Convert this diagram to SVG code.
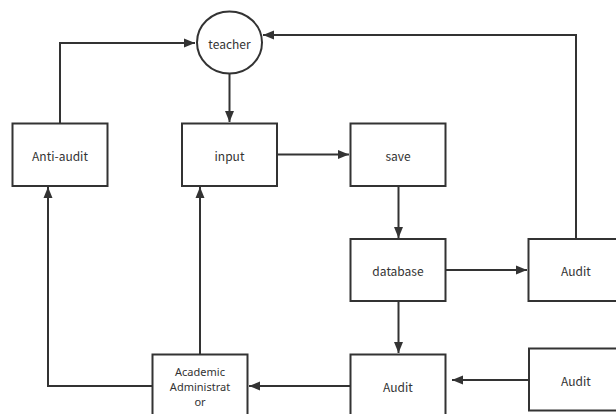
<svg xmlns="http://www.w3.org/2000/svg" width="616" height="414" viewBox="0 0 616 414">
<style>
.n{fill:#fff;stroke:#333;stroke-width:2}
.t{font-family:"Noto Sans CJK SC","Noto Sans",sans-serif;font-size:12px;fill:#333;text-anchor:middle;dominant-baseline:central}
.s{font-family:"Noto Sans",sans-serif;font-size:11px}
.c{fill:none;stroke:#333;stroke-width:2}
</style>
<defs>
<marker id="a" markerUnits="userSpaceOnUse" markerWidth="12" markerHeight="10" refX="11" refY="5" orient="auto">
<path d="M0,0.5 L11,5 L0,9.5 z" fill="#333"/>
</marker>
</defs>
<rect width="616" height="414" fill="#fff"/>
<g id="connectors">
<path class="c" d="M60,123 V43 H195" marker-end="url(#a)"/>
<path class="c" d="M576,239 V35 H263" marker-end="url(#a)"/>
<path class="c" d="M229.5,74 V122" marker-end="url(#a)"/>
<path class="c" d="M277,154.5 H349" marker-end="url(#a)"/>
<path class="c" d="M398.5,186 V238" marker-end="url(#a)"/>
<path class="c" d="M446,270 H527" marker-end="url(#a)"/>
<path class="c" d="M398.5,301 V353" marker-end="url(#a)"/>
<path class="c" d="M350,386 H249" marker-end="url(#a)"/>
<path class="c" d="M529,380 H452" marker-end="url(#a)"/>
<path class="c" d="M200,354 V187" marker-end="url(#a)"/>
<path class="c" d="M152,386 H48 V187" marker-end="url(#a)"/>
</g>
<g id="teacher"><ellipse class="n" cx="229.5" cy="42.5" rx="32.5" ry="31"/><text class="t" x="229.5" y="43">teacher</text></g>
<g id="anti-audit"><rect class="n" x="12.5" y="123.5" width="95" height="62.5"/><text class="t" x="60" y="155">Anti-audit</text></g>
<g id="input"><rect class="n" x="182" y="123.5" width="95" height="62.5"/><text class="t" x="229.5" y="155">input</text></g>
<g id="save"><rect class="n" x="350.5" y="123.5" width="95" height="62.5"/><text class="t" x="398" y="155">save</text></g>
<g id="database"><rect class="n" x="350.5" y="239" width="95" height="62"/><text class="t" x="398" y="270">database</text></g>
<g id="audit-top"><rect class="n" x="528.5" y="239" width="95" height="62"/><text class="t" x="576" y="270">Audit</text></g>
<g id="academic"><rect class="n" x="152.5" y="354.5" width="95" height="63"/><text class="t s" x="200" y="371">Academic</text><text class="t s" x="200" y="386">Administrat</text><text class="t s" x="200" y="401">or</text></g>
<g id="audit-mid"><rect class="n" x="350.5" y="354.5" width="95" height="63"/><text class="t" x="398" y="386">Audit</text></g>
<g id="audit-bottom"><rect class="n" x="529" y="348.5" width="95" height="62"/><text class="t" x="576" y="380">Audit</text></g>
</svg>
